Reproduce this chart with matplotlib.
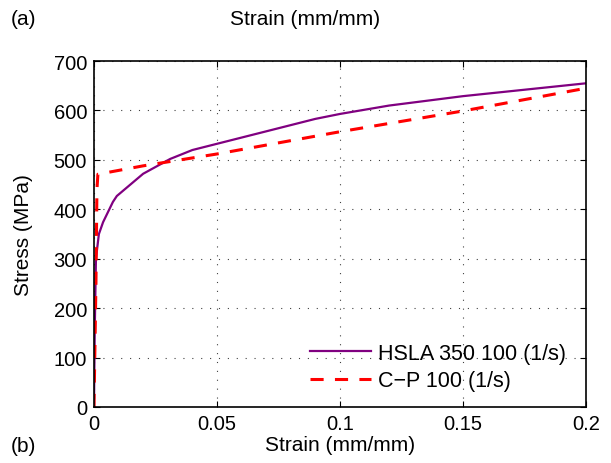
import numpy as np
import matplotlib
matplotlib.use('Agg')
import matplotlib.pyplot as plt

plt.rcParams['font.family'] = ['Liberation Sans', 'DejaVu Sans']

# stress-strain curves
hsla_strain = [0.0, 0.0003, 0.0008, 0.002, 0.0037, 0.0077, 0.0093, 0.02, 0.031, 0.04,
               0.09, 0.1, 0.12, 0.15, 0.2]
hsla_stress = [0, 150, 300, 350, 374, 415, 427, 472, 502, 520,
               583, 593, 610, 629, 655]
cp_strain = [0.0, 0.0008, 0.0012, 0.0016, 0.02, 0.05, 0.1, 0.15, 0.2]
cp_stress = [0, 250, 440, 471, 488, 512, 557, 599, 645]

x_ticks = [0, 0.05, 0.1, 0.15, 0.2]
x_ticklabels = ['0', '0.05', '0.1', '0.15', '0.2']
y_ticks = [0, 100, 200, 300, 400, 500, 600, 700]

fig = plt.figure(figsize=(6.11, 4.64), dpi=100)
ax = fig.add_axes([0.1538, 0.1207, 0.805, 0.7455])

ax.plot(hsla_strain, hsla_stress, color='#800080', linewidth=1.6, label='HSLA 350 100 (1/s)')
ax.plot(cp_strain, cp_stress, color='#ff0000', linewidth=2.2, linestyle=(0, (4.3, 3.7)),
        label='C\u2212P 100 (1/s)')

ax.set_xlim(0, 0.2)
ax.set_ylim(0, 700)
ax.set_xticks(x_ticks)
ax.set_xticklabels(x_ticklabels)
ax.set_yticks(y_ticks)
ax.tick_params(direction='in', top=True, right=True, labelsize=14.5, length=4,
               color='black', pad=5)
ax.grid(True, linestyle=(0, (1, 7)), color='black', linewidth=0.8, alpha=0.75)
for s in ax.spines.values():
    s.set_linewidth(1.2)

ax.set_xlabel('Strain (mm/mm)', fontsize=15)
ax.set_ylabel('Stress (MPa)', fontsize=15)
ax.xaxis.set_label_coords(0.5, -0.082)
ax.yaxis.set_label_coords(-0.124, 0.5)

leg = ax.legend(loc='lower right', frameon=False, fontsize=15.5, handlelength=2.8,
                borderpad=0, borderaxespad=0, labelspacing=0.3, handletextpad=0.35,
                bbox_to_anchor=(0.96, 0.045))

fig.text(0.017, 0.958, '(a)', fontsize=15, va='center')
fig.text(0.5, 0.958, 'Strain (mm/mm)', fontsize=15, va='center', ha='center')
fig.text(0.017, 0.0577, '(b)', fontsize=15, va='top')

fig.savefig('out.png', dpi=100)
